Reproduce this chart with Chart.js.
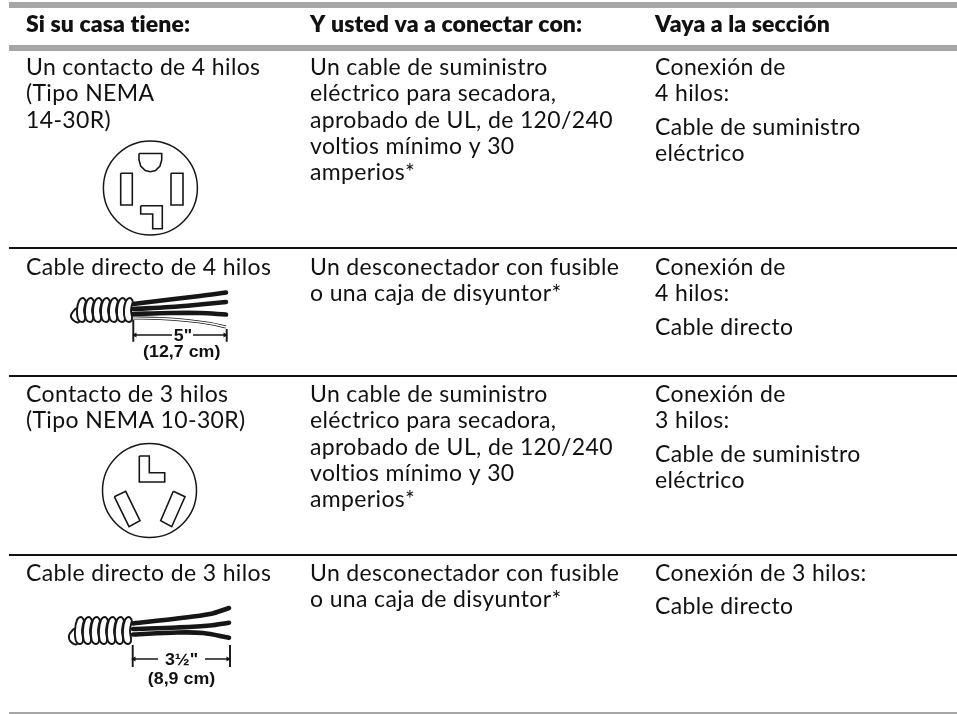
<!DOCTYPE html>
<html>
<head>
<meta charset="utf-8">
<style>
  html, body { margin: 0; padding: 0; background: #fff; }
  canvas { display: block; }
</style>
<script src="https://cdn.jsdelivr.net/npm/chart.js@4/dist/chart.umd.js"></script>
</head>
<body>
<canvas id="chart" width="957" height="714"></canvas>
<script>
// table text
const headers = ['Si su casa tiene:', 'Y usted va a conectar con:', 'Vaya a la sección'];
const columnOne = [
  [['Un contacto de 4 hilos', '(Tipo NEMA', '14-30R)']],
  [['Cable directo de 4 hilos']],
  [['Contacto de 3 hilos', '(Tipo NEMA 10-30R)']],
  [['Cable directo de 3 hilos']]
];
const columnTwo = [
  [['Un cable de suministro', 'eléctrico para secadora,', 'aprobado de UL, de 120/240', 'voltios mínimo y 30', 'amperios*']],
  [['Un desconectador con fusible', 'o una caja de disyuntor*']],
  [['Un cable de suministro', 'eléctrico para secadora,', 'aprobado de UL, de 120/240', 'voltios mínimo y 30', 'amperios*']],
  [['Un desconectador con fusible', 'o una caja de disyuntor*']]
];
const columnThree = [
  [['Conexión de', '4 hilos:'], ['Cable de suministro', 'eléctrico']],
  [['Conexión de', '4 hilos:'], ['Cable directo']],
  [['Conexión de', '3 hilos:'], ['Cable de suministro', 'eléctrico']],
  [['Conexión de 3 hilos:'], ['Cable directo']]
];

// rules, y
const grayRules = [5, 48, 715];
const blackRules = [248, 376, 555];
const columnX = [26, 310, 655];
const rowBaselines = [75, 275, 402, 581];

// 4 wire receptacle
const plugFourCenter = [[150.4, 188]];
const plugFourD = [[139, 153.5], [161.7, 153.5], [161.7, 160], [160, 166], [155.5, 170.5], [150.4, 171.7], [145.3, 170.5], [140.7, 166], [139, 160], [139, 153.5]];
const plugFourLeft = [[120.7, 173.3], [132.3, 173.3], [132.3, 205], [120.7, 205], [120.7, 173.3]];
const plugFourRight = [[171, 173.3], [183, 173.3], [183, 205], [171, 205], [171, 173.3]];
const plugFourL = [[140.7, 205.7], [162.3, 205.7], [162.3, 228.7], [152.7, 228.7], [152.7, 214], [140.7, 214], [140.7, 205.7]];

// 3 wire receptacle
const plugThreeCenter = [[149.5, 490.5]];
const plugThreeL = [[139.3, 456], [149.3, 456], [149.3, 472.7], [164.7, 472.7], [164.7, 482], [139.3, 482], [139.3, 456]];
const plugThreeLeft = [[114.3, 496.7], [125.7, 491.3], [140, 520.7], [129, 526.7], [114.3, 496.7]];
const plugThreeRight = [[173.3, 491.3], [185, 496.7], [171.7, 526.7], [160.7, 520.7], [173.3, 491.3]];

// 4 wire cable
const coilFourTops = [84, 92, 100, 108, 116, 124, 131];
const coilFourY = [298, 322];
const wiresFour = [
  [[133, 304], [170, 299.5], [200, 296], [226, 292.5]],
  [[133, 309], [170, 307], [200, 304.5], [226, 302]],
  [[133, 314], [170, 313], [200, 313], [226, 314.5]]
];
const whiteWire = [[133, 318], [160, 318.5], [187, 320.5], [210, 323.5], [226, 327]];
const tickFour = [[[133.3, 320], [133.3, 341.7]], [[226.7, 329], [226.7, 341.7]]];
const dimFour = [[[135, 335], [172, 335]], [[193, 335], [225, 335]]];

// 3 wire cable
const coilThreeTops = [82, 90, 98, 106, 114, 122, 130];
const coilThreeY = [617, 644];
const wiresThree = [
  [[133, 623.5], [177, 618.5], [210, 614], [229, 608]],
  [[133, 629], [177, 627.5], [210, 625.5], [229, 622.7]],
  [[133, 634.5], [177, 632.5], [203, 633], [229, 637.7]]
];
const tickThree = [[[132.7, 645], [132.7, 667]], [[230, 645], [230, 667]]];
const dimThree = [[[134, 659], [158, 659]], [[205, 659], [228, 659]]];

const dimLabels = [
  { top: '5"', bottom: '(12,7 cm)', x: [183, 181.7], y: [341, 357] },
  { top: '3½"', bottom: '(8,9 cm)', x: [181.5, 181.5], y: [665, 684] }
];

const ink = '#161616';
const datasets = [];

function toPoints(list) {
  return list.map(p => ({ x: p[0], y: p[1] }));
}

function addLine(list, opts) {
  datasets.push(Object.assign({
    data: toPoints(list),
    showLine: true,
    pointRadius: 0,
    borderColor: ink,
    borderWidth: 1.6,
    fill: false,
    tension: 0,
    clip: false
  }, opts));
}

function addCircle(list, radius) {
  datasets.push({
    data: toPoints(list),
    showLine: false,
    pointRadius: radius,
    pointStyle: 'circle',
    pointBackgroundColor: 'rgba(0,0,0,0)',
    pointBorderColor: ink,
    pointBorderWidth: 1.5
  });
}

// one turn of the armoured sheath, drawn left to right so they overlap
function addCoil(tops, ys) {
  const top = ys[0], bottom = ys[1], mid = (top + bottom) / 2;
  const first = tops[0];
  addLine([[first - 8, mid - 2], [first - 13, mid + 5], [first - 11, bottom - 2], [first - 5, bottom], [first - 2, mid + 3], [first - 8, mid - 2]], {
    tension: 0.4, fill: 'shape', backgroundColor: '#fff', borderWidth: 1.9
  });
  tops.forEach(t => {
    addLine([[t + 2, top + 3], [t - 1, top], [t - 5, top + 3], [t - 7, mid], [t - 6, bottom - 3], [t - 2, bottom], [t + 1, bottom - 3], [t, mid], [t + 2, top + 3]], {
      tension: 0.4, fill: 'shape', backgroundColor: '#fff', borderWidth: 1.9
    });
  });
}

function addCable(wires, ticks, dims) {
  wires.forEach(w => addLine(w, { borderWidth: 4.6, tension: 0.35, borderCapStyle: 'round' }));
  ticks.forEach(t => addLine(t, { borderWidth: 1.9 }));
  dims.forEach((d, i) => {
    addLine(d, { borderWidth: 1.5 });
    datasets.push({
      data: toPoints([i === 0 ? d[0] : d[1]]),
      showLine: false,
      pointStyle: 'triangle',
      pointRadius: 3,
      pointRotation: i === 0 ? -90 : 90,
      pointBackgroundColor: ink,
      pointBorderColor: ink,
      pointBorderWidth: 0
    });
  });
}

grayRules.forEach(y => addLine([[9, y], [957, y]], { borderColor: '#a6a6a6', borderWidth: 6 }));
blackRules.forEach(y => addLine([[9, y], [957, y]], { borderWidth: 1.8, borderColor: '#111' }));

addCircle(plugFourCenter, 47);
[plugFourD, plugFourLeft, plugFourRight, plugFourL].forEach(s => addLine(s));
addCircle(plugThreeCenter, 47);
[plugThreeL, plugThreeLeft, plugThreeRight].forEach(s => addLine(s));

addLine(whiteWire, { borderWidth: 3, tension: 0.35 });
addLine(whiteWire, { borderWidth: 1.4, tension: 0.35, borderColor: '#fff' });
addCable(wiresFour, tickFour, dimFour);
addCoil(coilFourTops, coilFourY);
addCable(wiresThree, tickThree, dimThree);
addCoil(coilThreeTops, coilThreeY);

// plain text goes on top through the chart's own scales
const tableText = {
  id: 'tableText',
  afterDatasetsDraw(chart) {
    const { ctx, scales } = chart;
    const px = v => scales.x.getPixelForValue(v);
    const py = v => scales.y.getPixelForValue(v);
    ctx.save();
    ctx.fillStyle = '#111';
    ctx.textBaseline = 'alphabetic';

    ctx.font = '800 23px Lato';
    ctx.letterSpacing = '0.1px';
    headers.forEach((h, i) => ctx.fillText(h, px(columnX[i]), py(32)));

    ctx.font = '400 23px Lato';
    ctx.letterSpacing = '0.36px';
    [columnOne, columnTwo, columnThree].forEach((col, c) => {
      col.forEach((cell, r) => {
        let y = rowBaselines[r];
        cell.forEach(par => {
          par.forEach(line => {
            ctx.fillText(line, px(columnX[c]), py(y));
            y += 26.3;
          });
          y += 7;
        });
      });
    });

    // the cable labels are a wide grotesque, so stretch Liberation Sans a bit
    ctx.letterSpacing = '0px';
    ctx.textAlign = 'center';
    ctx.font = 'bold 16.5px "Liberation Sans"';
    dimLabels.forEach(d => {
      [d.top, d.bottom].forEach((text, i) => {
        ctx.save();
        ctx.translate(px(d.x[i]), py(d.y[i]));
        ctx.scale(1.08, 1);
        ctx.fillText(text, 0, 0);
        ctx.restore();
      });
    });
    ctx.restore();
  }
};

new Chart(document.getElementById('chart'), {
  type: 'scatter',
  data: { datasets: datasets.reverse() },
  plugins: [tableText],
  options: {
    responsive: false,
    animation: false,
    layout: { padding: 0, autoPadding: false },
    plugins: { legend: { display: false }, tooltip: { enabled: false } },
    scales: {
      x: { type: 'linear', min: 0, max: 957, display: false },
      y: { type: 'linear', min: 0, max: 714, reverse: true, display: false }
    }
  }
});
</script>
</body>
</html>
